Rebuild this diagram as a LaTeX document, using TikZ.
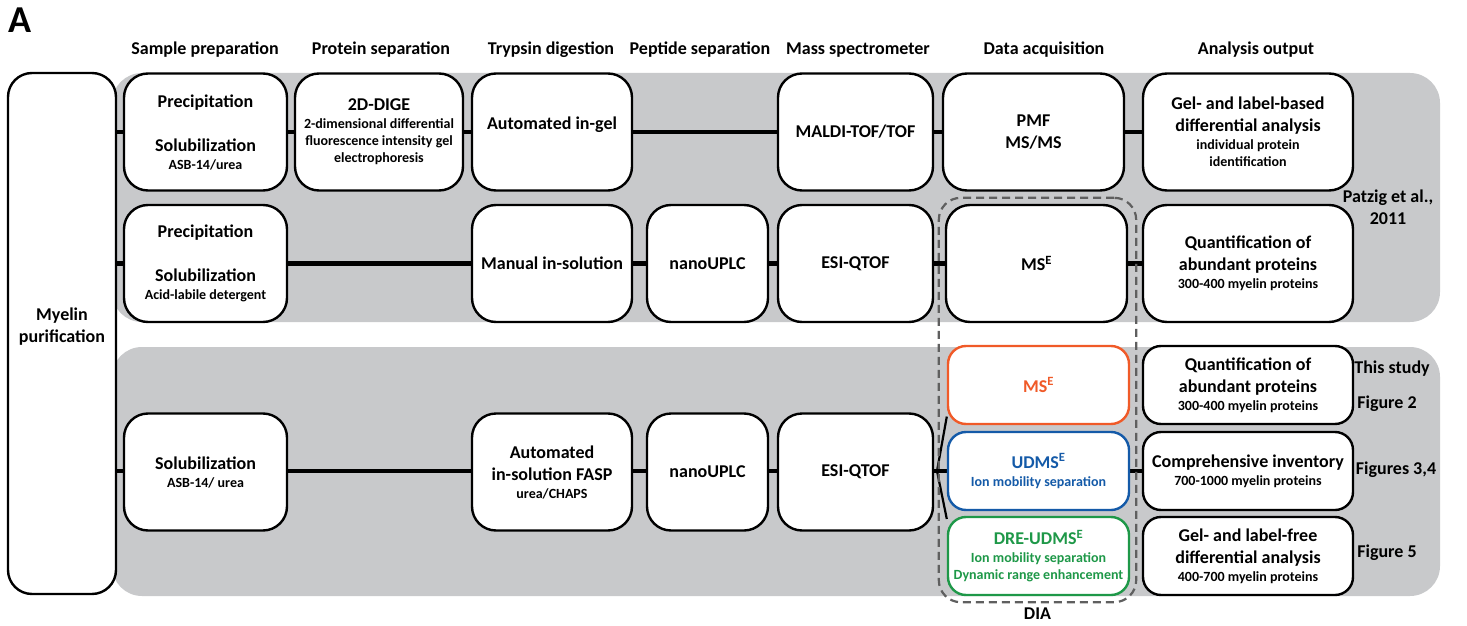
\documentclass[tikz,border=0pt]{standalone}
\usepackage{fontspec}
\setmainfont{Carlito}
\usetikzlibrary{backgrounds,fit}

\definecolor{panelgray}{RGB}{200,201,203}
\definecolor{msorange}{RGB}{240,90,40}
\definecolor{udblue}{RGB}{20,90,168}
\definecolor{dregreen}{RGB}{30,152,72}
\definecolor{diagray}{RGB}{95,95,95}

\newcommand{\bigtxt}{\fontsize{18}{22}\selectfont\bfseries}
\newcommand{\smalltxt}{\fontsize{14}{16.5}\selectfont\bfseries}

\begin{document}
\begin{tikzpicture}[
x=1pt, y=-1pt,
box/.style={draw, line width=2.4pt, rounded corners=24pt, fill=white,
  align=center, inner sep=0pt, font=\bigtxt},
tall/.style={minimum height=117pt},
short/.style={minimum height=78pt, rounded corners=18pt},
link/.style={line width=4.8pt},
twig/.style={line width=2.2pt},
head/.style={font=\bigtxt, align=center},
]
\useasboundingbox (0,0) rectangle (1467,626);

\node[font=\fontsize{38}{38}\selectfont\bfseries] (panel) at (20,20) {A};

% column heads
\node[head] (hprep) at (205,50) {Sample preparation};
\node[head] (hprot) at (381,50) {Protein separation};
\node[head] (htryp) at (551,50) {Trypsin digestion};
\node[head] (hpept) at (700,50) {Peptide separation};
\node[head] (hmass) at (858,50) {Mass spectrometer};
\node[head] (hdata) at (1044,50) {Data acquisition};
\node[head] (hout) at (1256,50) {Analysis output};

\node[box, minimum width=108pt, minimum height=521pt] (myelin) at (62,333.5)
  {Myelin\\purification\\[-6pt]\mbox{}};

% row 1
\node[box, tall, minimum width=163pt] (prep1) at (205.5,132)
  {Precipitation\\[22pt]Solubilization\\[-4pt]{\smalltxt ASB-14/urea}};
\node[box, tall, minimum width=168pt] (dige) at (379,132)
  {2D-DIGE\\[-4pt]{\smalltxt 2-dimensional differential}\\[-5pt]{\smalltxt fluorescence intensity gel}\\[-5pt]{\smalltxt electrophoresis}};
\node[box, tall, minimum width=160pt] (ingel) at (552,132) {Automated in-gel\\[-4pt]\mbox{}};
\node[box, tall, minimum width=155pt] (maldi) at (855.5,132) {MALDI-TOF/TOF};
\node[box, tall, minimum width=181pt] (pmf) at (1033.5,132) {PMF\\MS/MS};
\node[box, tall, minimum width=210pt] (gelbased) at (1248,132)
  {Gel- and label-based\\differential analysis\\[-4pt]{\smalltxt individual protein}\\[-5pt]{\smalltxt identification}};

% row 2
\node[box, tall, minimum width=163pt] (prep2) at (205.5,263.5)
  {Precipitation\\[22pt]Solubilization\\[-4pt]{\smalltxt Acid-labile detergent}};
\node[box, tall, minimum width=160pt] (manual) at (552,263.5) {Manual in-solution};
\node[box, tall, minimum width=121pt] (uplc2) at (707.5,263.5) {nanoUPLC};
\node[box, tall, minimum width=155pt] (esi2) at (855.5,263.5) {ESI-QTOF};
\node[box, tall, minimum width=181pt] (mse2) at (1036.5,263.5) {MS\textsuperscript{E}};
\node[box, tall, minimum width=210pt] (quant2) at (1248,263.5)
  {Quantification of\\abundant proteins\\[-4pt]{\smalltxt 300-400 myelin proteins}};

% row 3
\node[box, tall, minimum width=163pt] (sol3) at (205.5,472)
  {Solubilization\\[-4pt]{\smalltxt ASB-14/ urea}};
\node[box, tall, minimum width=160pt] (fasp) at (552,472)
  {Automated\\in-solution FASP\\[-4pt]{\smalltxt urea/CHAPS}};
\node[box, tall, minimum width=121pt] (uplc3) at (707.5,472) {nanoUPLC};
\node[box, tall, minimum width=155pt] (esi3) at (855.5,472) {ESI-QTOF};

\node[box, short, draw=msorange, text=msorange, minimum width=181pt] (mse3) at (1038.5,385)
  {MS\textsuperscript{E}};
\node[box, short, draw=udblue, text=udblue, minimum width=181pt] (udmse) at (1038.5,471)
  {UDMS\textsuperscript{E}\\[-4pt]{\smalltxt Ion mobility separation}};
\node[box, short, draw=dregreen, text=dregreen, minimum width=181pt] (dre) at (1038.5,556)
  {DRE-UDMS\textsuperscript{E}\\[-4pt]{\smalltxt Ion mobility separation}\\[-5pt]{\smalltxt Dynamic range enhancement}};

\node[box, short, minimum width=210pt] (quant3) at (1248,385)
  {Quantification of\\abundant proteins\\[-4pt]{\smalltxt 300-400 myelin proteins}};
\node[box, short, minimum width=210pt] (inventory) at (1248,471)
  {Comprehensive inventory\\[-4pt]{\smalltxt 700-1000 myelin proteins}};
\node[box, short, minimum width=210pt] (gelfree) at (1248,556)
  {Gel- and label-free\\differential analysis\\[-4pt]{\smalltxt 400-700 myelin proteins}};

% references on the right
\node[head] (patzig) at (1388,207) {Patzig et al.,\\2011};
\node[head] (thisstudy) at (1392,369) {This study};
\node[head] (fig2) at (1387,404) {Figure 2};
\node[head] (fig34) at (1396,470) {Figures 3,4};
\node[head] (fig5) at (1387,553) {Figure 5};

\coordinate (split) at (937,471);

\begin{scope}[on background layer]
\fill[panelgray, rounded corners=30pt] (112,73) rectangle (1440,322);
\fill[panelgray, rounded corners=30pt] (112,347) rectangle (1440,596);
\draw[link] (myelin.east |- pmf) -- (gelbased);
\draw[link] (myelin.east |- mse2) -- (quant2);
\draw[link] (myelin.east |- udmse) -- (split) -- (udmse.west);
\draw[link] (udmse) -- (inventory);
\draw[twig] (split) -- (mse3.199);
\draw[twig] (split) -- (dre.158);
\end{scope}

% DIA frame
\node[draw=diagray, line width=2.2pt, dash pattern=on 8pt off 5pt, rounded corners=22pt,
  inner sep=6pt, fit=(mse2)(dre)] (dia) {};
\node[head, anchor=north, inner sep=4pt] (dialabel) at (dia.south) {DIA};
\end{tikzpicture}
\end{document}
